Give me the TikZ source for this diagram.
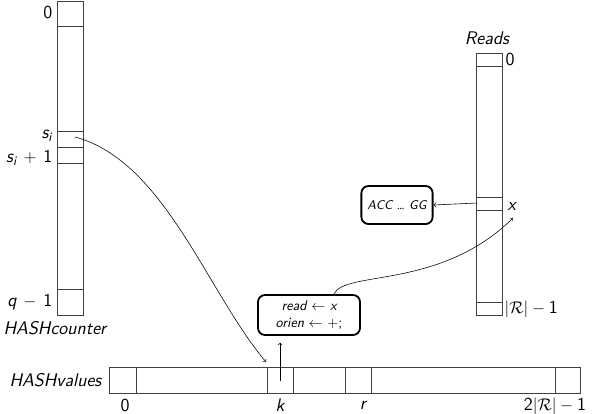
\documentclass[tikz,border=0pt]{standalone}
\usetikzlibrary{positioning}

\newcommand{\vsub}[2]{\textit{#1}\textsubscript{\textit{#2}}}

\tikzset{
  grid line/.style={draw=black!75, line width=0.5pt},
  infobox/.style={draw, line width=1.3pt, rounded corners=5pt, align=center,
    font=\sffamily\itshape\fontsize{10}{12.5}\selectfont, inner sep=2pt},
  lbl/.style={font=\sffamily\itshape\fontsize{13}{15}\selectfont, inner sep=1pt},
  num/.style={font=\sffamily\fontsize{13}{15}\selectfont, inner sep=1pt}
}

\begin{document}
\begin{tikzpicture}[x=0.025cm, y=-0.025cm, >=to]
    \useasboundingbox (0,0) rectangle (600,414);

    % HASHcounter column
    \draw[grid line] (57,1) rectangle (83,315);
    \draw[grid line] (57,26) -- (83,26);
    \draw[grid line] (57,131) -- (83,131);
    \draw[grid line] (57,147) -- (83,147);
    \draw[grid line] (57,163) -- (83,163);
    \draw[grid line] (57,289) -- (83,289);
    \coordinate (si) at (75,137);

    \node[num, anchor=east] (c0) at (54,13) {0};
    \node[lbl, anchor=east] (csi) at (54,136) {\vsub{s}{i}};
    \node[lbl, anchor=east] (csi1) at (54,158) {\vsub{s}{i}\,${}+{}$\,\upshape 1};
    \node[lbl, anchor=east] (cq) at (54,302) {\textit{q}\,${}-{}$\,\upshape 1};
    \node[lbl] (hcounter) at (55,328) {HASHcounter};

    % Reads column
    \draw[grid line] (476,53) rectangle (502,315);
    \draw[grid line] (476,66) -- (502,66);
    \draw[grid line] (476,197) -- (502,197);
    \draw[grid line] (476,210) -- (502,210);
    \draw[grid line] (476,302) -- (502,302);
    \coordinate (xcell) at (477,203);
    \coordinate (xin) at (513,218);

    \node[lbl] (reads) at (487,38) {Reads};
    \node[num, anchor=west] (r0) at (504,60) {0};
    \node[lbl, anchor=west] (rx) at (506,206) {x};
    \node[num, anchor=west] (rlast) at (503,309) {$|\mathcal{R}|-{}$1};

    % HASHvalues row
    \draw[grid line] (109,367) rectangle (580,393);
    \foreach \xx in {136,267,293,345,371,555}
      \draw[grid line] (\xx,367) -- (\xx,393);
    \coordinate (kin) at (266,362);
    \coordinate (kmid) at (280,381);

    \node[lbl, anchor=east] (hvalues) at (103,380) {HASHvalues};
    \node[num] (v0) at (125,406) {0};
    \node[lbl] (vk) at (280,405) {k};
    \node[lbl] (vr) at (363,405) {r};
    \node[num] (vlast) at (555,406) {2$|\mathcal{R}|-{}$1};

    % boxes
    \node[infobox, minimum width=2.55cm, minimum height=1cm] (readbox) at (309,315)
      {read $\leftarrow$ x\\ orien $\leftarrow$ \upshape$+$;};
    \node[infobox, font=\sffamily\itshape\small, minimum width=1.78cm,
      minimum height=0.95cm] (accbox) at (397,205) {ACC \dots\ GG};

    % connectors
    \draw[->] (si) to[out=-15, in=130, looseness=0.8] (kin);
    \draw[->, shorten >=0.17cm] (kmid) -- (readbox.south -| kmid);
    \draw[->] (readbox.north east) ++(-27,0) coordinate (rtop)
      .. controls (345,270) and (440,290) .. (xin);
    \draw[->] (xcell) -- (accbox.east);
  \end{tikzpicture}
\end{document}
